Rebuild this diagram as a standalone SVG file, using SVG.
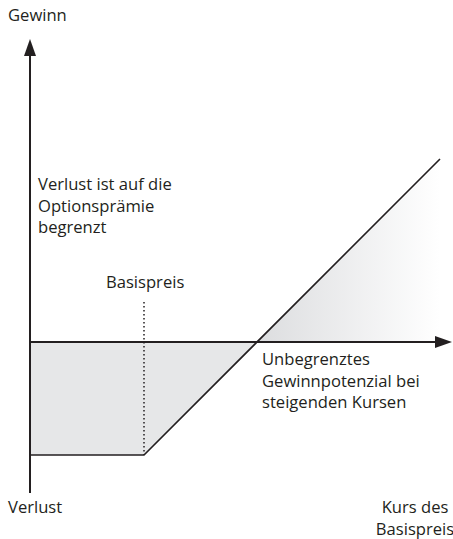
<svg xmlns="http://www.w3.org/2000/svg" width="453" height="539" viewBox="0 0 453 539">
<style>
text{font-family:"Open Sans","Noto Sans",sans-serif;font-size:16.6px;fill:#231f20}
.ax{stroke:#231f20;stroke-width:2;fill:none}
.ln{stroke:#231f20;stroke-width:1.6;fill:none}
</style>
<defs>
<linearGradient id="g" x1="0" y1="0" x2="1" y2="0">
<stop offset="0" stop-color="#dcdddf"/>
<stop offset="1" stop-color="#ffffff"/>
</linearGradient>
</defs>
<g id="areas">
<polygon points="30,342 257,342 144,455 30,455" fill="#e6e7e8"/>
<polygon points="257,342 440,159 440,342" fill="url(#g)"/>
</g>
<g id="connectors">
<path d="M30,493 V52" class="ax"/>
<polygon points="30,39 24,56 36,56" fill="#231f20"/>
<path d="M30,342 H438" class="ax"/>
<polygon points="452,342 435,336 435,348" fill="#231f20"/>
<path d="M30,455 H144 L440,159" class="ln"/>
<path d="M144,302 V455" stroke="#231f20" stroke-width="1.5" stroke-dasharray="1.5 2.5" fill="none"/>
</g>
<g id="labels">
<text x="8" y="21">Gewinn</text>
<text x="38" y="190">Verlust ist auf die</text>
<text x="38" y="212">Optionsprämie</text>
<text x="38" y="233">begrenzt</text>
<text x="106" y="288">Basispreis</text>
<text x="262" y="365">Unbegrenztes</text>
<text x="262" y="387">Gewinnpotenzial bei</text>
<text x="262" y="408">steigenden Kursen</text>
<text x="8" y="513">Verlust</text>
<text x="415" y="513" text-anchor="middle">Kurs des</text>
<text x="415" y="535" text-anchor="middle">Basispreis</text>
</g>
</svg>
